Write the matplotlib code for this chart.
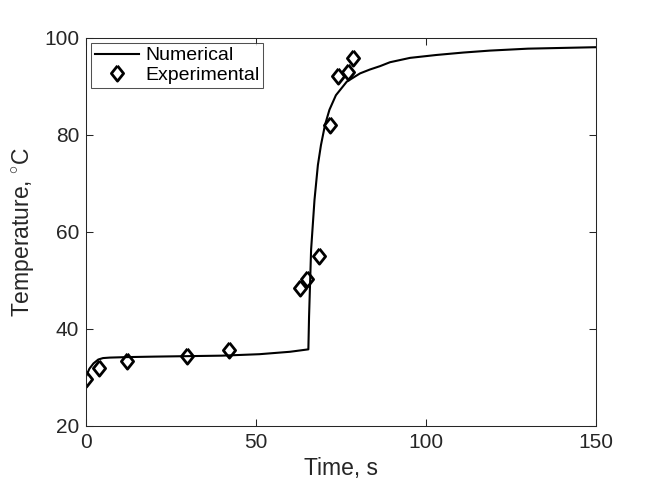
import numpy as np
import matplotlib
matplotlib.use('Agg')
from matplotlib import pyplot as plt

# numerical curve
num_time = [0.0, 1.0, 2.2, 3.6, 5.0, 7.0, 12.0, 20.0, 30.0, 40.0, 51.0, 60.0, 65.4,
            65.6, 66.2, 67.2, 68.2, 69.1, 70.3, 71.6, 73.5, 76.7, 80.6, 83.5,
            86.5, 89.4, 95.3, 103.1, 111.0, 118.8, 130.0, 150.0]
num_temp = [30.2, 31.8, 32.9, 33.7, 34.0, 34.1, 34.2, 34.3, 34.4, 34.5, 34.8, 35.3, 35.8,
            42.5, 56.3, 66.6, 73.8, 77.9, 82.1, 85.2, 88.2, 91.0, 92.7, 93.5,
            94.2, 95.0, 95.9, 96.5, 97.0, 97.4, 97.8, 98.1]

# experimental points
exp_time = [0.0, 3.9, 12.2, 29.8, 42.0, 62.9, 65.1, 68.6, 71.8, 74.1, 77.1, 78.4]
exp_temp = [29.7, 31.9, 33.3, 34.5, 35.7, 48.5, 50.4, 55.1, 82.1, 92.2, 93.0, 95.8]

plt.rcParams['font.family'] = ['Liberation Sans', 'DejaVu Sans']
plt.rcParams['mathtext.fontset'] = 'custom'
plt.rcParams['mathtext.rm'] = 'Liberation Sans'

axcol = '#262626'
diamond = [(0, 1), (0.8, 0), (0, -1), (-0.8, 0), (0, 1)]

fig = plt.figure(figsize=(6.58, 4.94), dpi=100)
ax = fig.add_axes([0.1307, 0.1377, 0.7751, 0.7854])

ax.plot(num_time, num_temp, color='k', lw=1.5, label='Numerical')
ax.plot(exp_time, exp_temp, linestyle='none', marker=diamond, markersize=11,
        markerfacecolor='none', markeredgecolor='k', markeredgewidth=2,
        label='Experimental')

ax.set_xlim(0, 150)
ax.set_ylim(20, 100)
ax.set_xticks([0, 50, 100, 150])
ax.set_yticks([20, 40, 60, 80, 100])
ax.tick_params(direction='in', top=True, right=True, length=5, width=0.75,
               colors=axcol, labelsize=15, pad=5)
for s in ax.spines.values():
    s.set_color(axcol)
    s.set_linewidth(0.75)

ax.set_xlabel('Time, s', fontsize=16.5, color=axcol, labelpad=4)
ax.set_ylabel('Temperature, $^{\\circ}$C', fontsize=16.5, color=axcol, labelpad=6)

leg = ax.legend(loc='upper left', fontsize=14, frameon=True, fancybox=False,
                edgecolor=axcol, borderpad=0.2, handlelength=2.3, handletextpad=0.3,
                labelspacing=0.1, borderaxespad=0.25)
leg.get_frame().set_linewidth(0.75)

fig.savefig('out.png', dpi=100)
